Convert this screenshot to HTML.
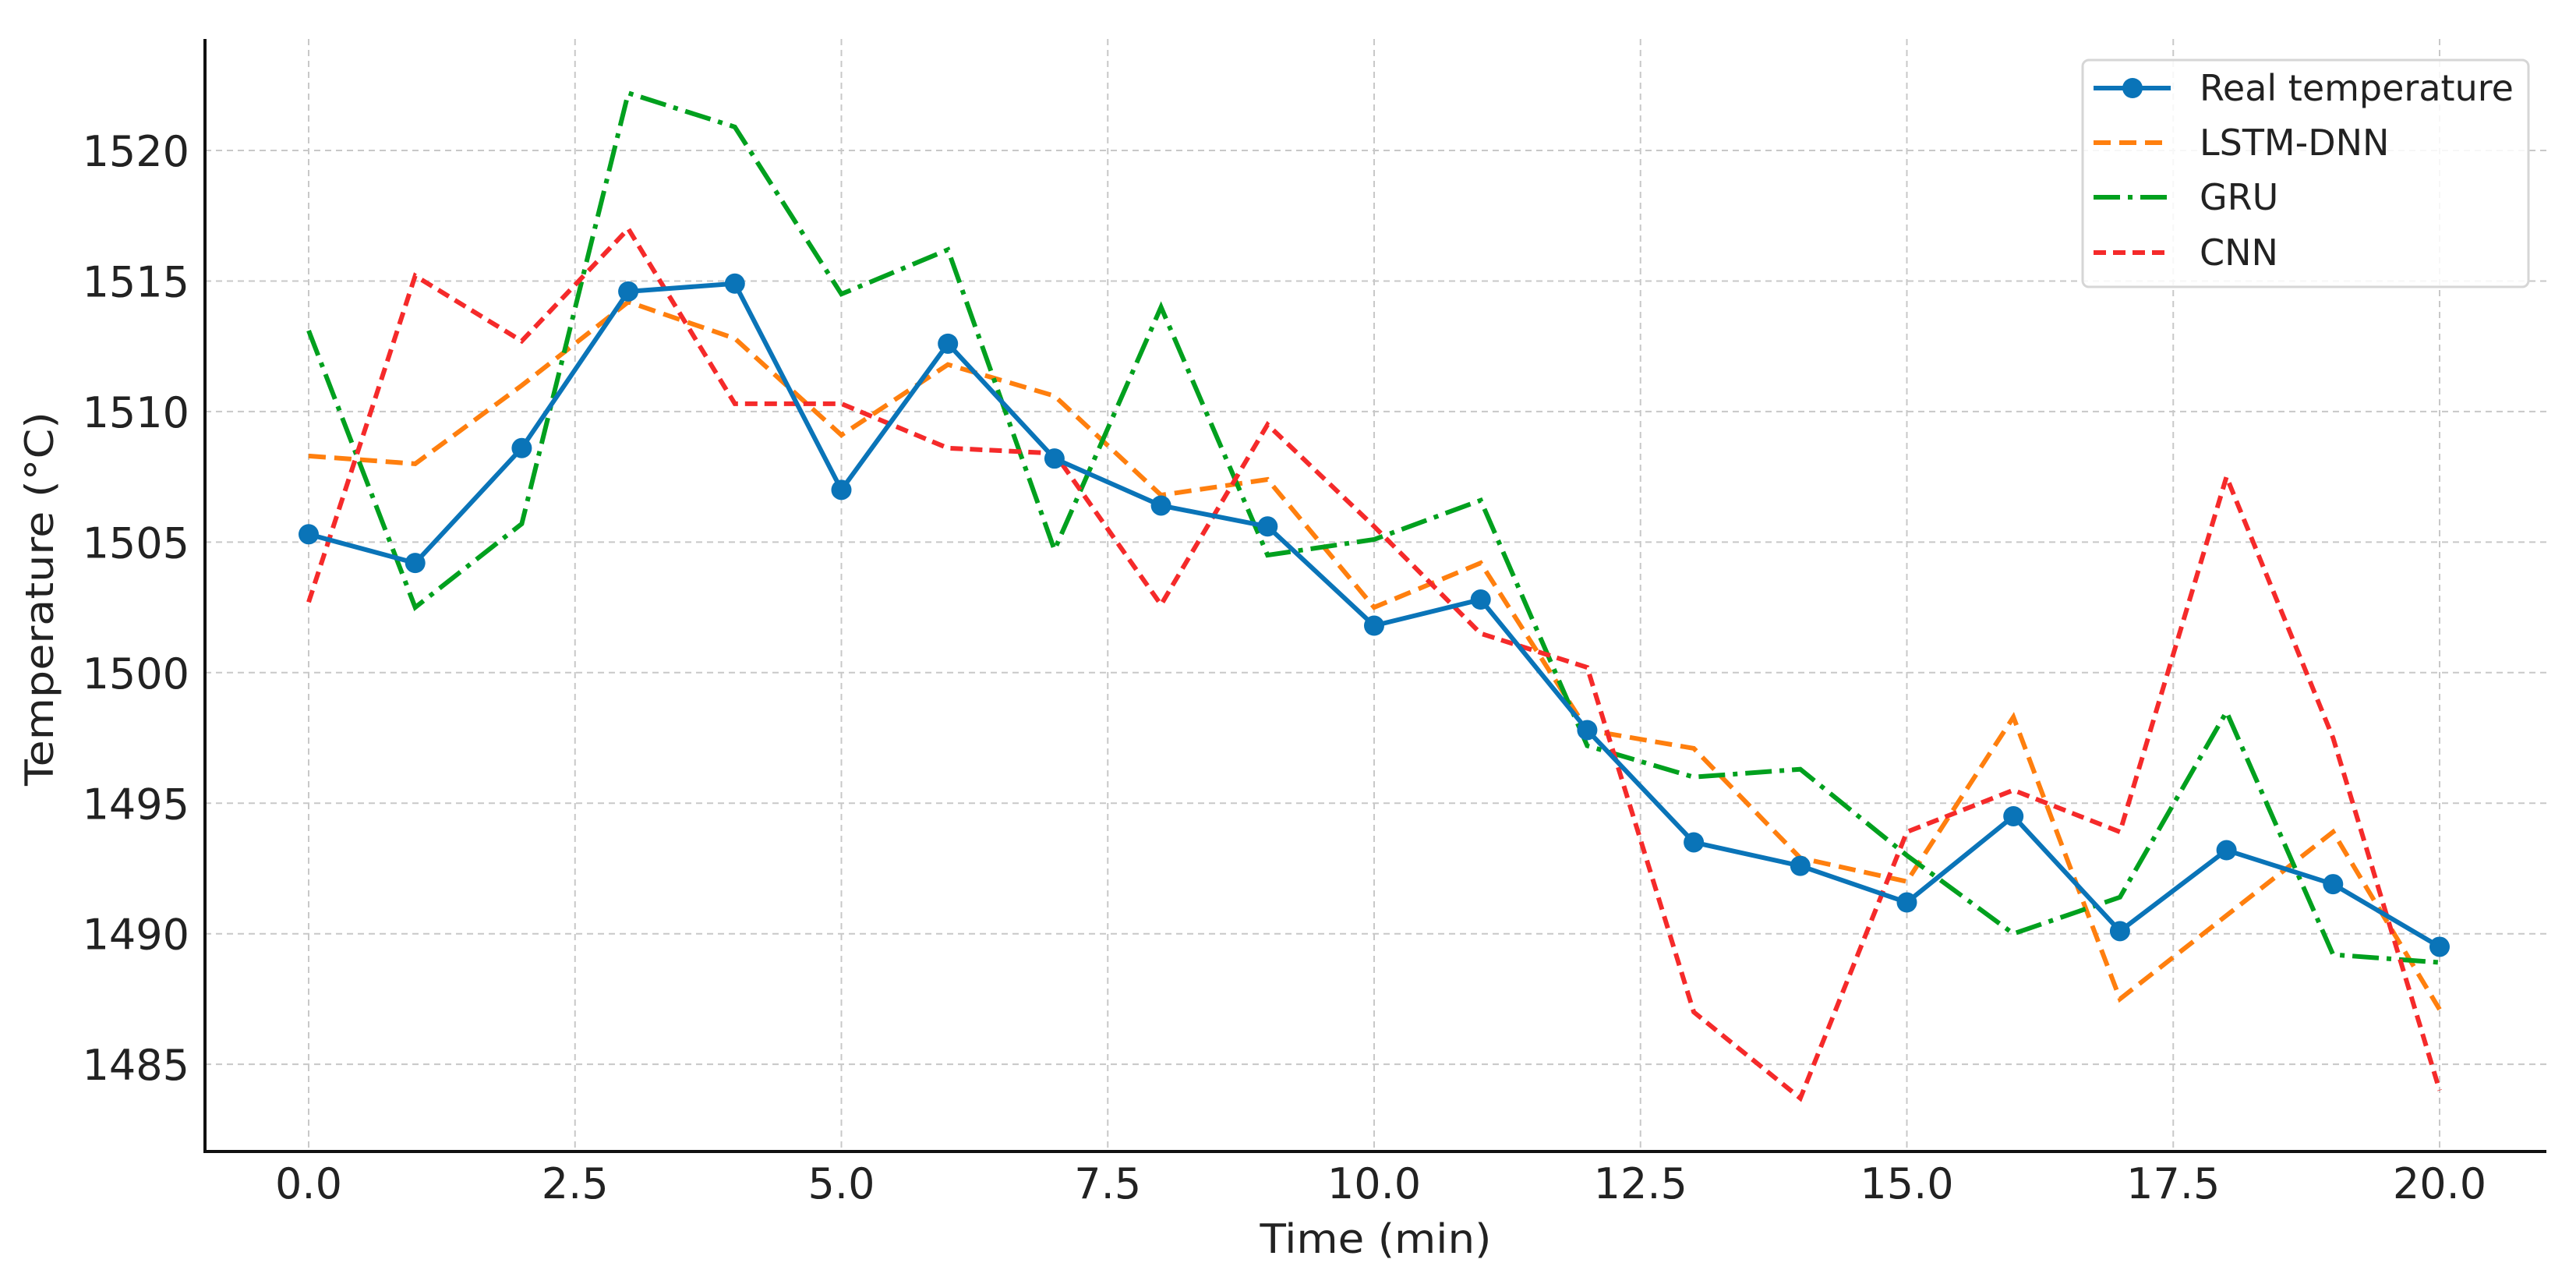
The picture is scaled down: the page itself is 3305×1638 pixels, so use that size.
<!DOCTYPE html>
<html><head><meta charset="utf-8"><style>
html,body{margin:0;padding:0;background:#fff;}
svg{display:block;font-family:"DejaVu Sans","Liberation Sans",sans-serif;}
</style></head><body>
<svg id="chart" width="3305" height="1638" viewBox="0 0 3305 1638" xmlns="http://www.w3.org/2000/svg">
<rect width="3305" height="1638" fill="#fff"/>
<g id="grid"></g>
<g id="series"></g>
<g id="axes"></g>
<text transform="translate(68,768) rotate(-90)" text-anchor="middle" font-size="50" fill="#222" textLength="480" lengthAdjust="spacingAndGlyphs">Temperature (°C)</text>
<text x="1765" y="1607" text-anchor="middle" font-size="52" fill="#222" textLength="297" lengthAdjust="spacingAndGlyphs">Time (min)</text>
<g id="legend"></g>
</svg>
<script>
const xs = [0,1,2,3,4,5,6,7,8,9,10,11,12,13,14,15,16,17,18,19,20];
const realTemp = [1505.3,1504.2,1508.6,1514.6,1514.9,1507.0,1512.6,1508.2,1506.4,1505.6,1501.8,1502.8,1497.8,1493.5,1492.6,1491.2,1494.5,1490.1,1493.2,1491.9,1489.5];
const lstmDnn = [1508.3,1508.0,1511.0,1514.2,1512.8,1509.1,1511.8,1510.6,1506.8,1507.4,1502.5,1504.2,1497.8,1497.1,1492.9,1492.0,1498.3,1487.5,1490.7,1493.9,1487.1];
const gru = [1513.1,1502.5,1505.7,1522.2,1520.9,1514.5,1516.2,1504.7,1514.0,1504.5,1505.1,1506.6,1497.2,1496.0,1496.3,1493.0,1490.0,1491.4,1498.5,1489.2,1488.9];
const cnn = [1502.7,1515.2,1512.7,1517.0,1510.3,1510.3,1508.6,1508.4,1502.6,1509.5,1505.6,1501.5,1500.2,1487.0,1483.7,1493.9,1495.5,1493.9,1507.5,1497.5,1484.0];
const xTicks = [0,2.5,5,7.5,10,12.5,15,17.5,20];
const xTickLabels = ["0.0","2.5","5.0","7.5","10.0","12.5","15.0","17.5","20.0"];
const yTicks = [1485,1490,1495,1500,1505,1510,1515,1520];
const yTickLabels = ["1485","1490","1495","1500","1505","1510","1515","1520"];
const legendLabels = ["Real temperature","LSTM-DNN","GRU","CNN"];

const NS="http://www.w3.org/2000/svg";
const L=263,R=3267,T=50,B=1477;
const X=v=>396+v*136.7;
const Y=v=>193+(1520-v)*33.49;
function mk(tag,attrs,parent){const e=document.createElementNS(NS,tag);for(const k in attrs)e.setAttribute(k,attrs[k]);parent.appendChild(e);return e;}
const grid=document.getElementById('grid'),axes=document.getElementById('axes'),ser=document.getElementById('series'),leg=document.getElementById('legend');

xTicks.forEach((t,i)=>{
  const g=mk('line',{x1:X(t),x2:X(t),y1:T,y2:B,stroke:'#c8c8c8','stroke-width':2,'stroke-dasharray':'8,6'},grid);
  
  
  const tx=mk('text',{x:X(t),y:1537,'text-anchor':'middle','font-size':54,fill:'#222'},axes);
  tx.textContent=xTickLabels[i];
  
  
});
yTicks.forEach((t,i)=>{
  const g=mk('line',{x1:L,x2:R,y1:Y(t),y2:Y(t),stroke:'#c8c8c8','stroke-width':2,'stroke-dasharray':'8,6'},grid);
  
  
  const tx=mk('text',{x:243,y:Y(t)+20,'text-anchor':'end','font-size':54,fill:'#222'},axes);
  tx.textContent=yTickLabels[i];
  
  
});
const ax1=mk('line',{x1:L,x2:L,y1:T,y2:B+2,stroke:'#111','stroke-width':4},axes);


const ax2=mk('line',{x1:L-2,x2:R,y1:B,y2:B,stroke:'#111','stroke-width':4},axes);



const styles=[
 {data:realTemp,color:'#0a74b8',dash:null,name:'real-temperature-line'},
 {data:lstmDnn,color:'#ff7f0e',dash:'22,11',name:'lstm-dnn-line'},
 {data:gru,color:'#00a01e',dash:'34,10,6,10',name:'gru-line'},
 {data:cnn,color:'#f52a2a',dash:'16,9',name:'cnn-line'}
];
[1,2,3,0].forEach(si=>{
  const s=styles[si];
  const pts=s.data.map((v,i)=>X(xs[i])+','+Y(v)).join(' ');
  const a={points:pts,fill:'none',stroke:s.color,'stroke-width':6,'stroke-linejoin':'miter'};
  if(s.dash)a['stroke-dasharray']=s.dash;
  const p=mk('polyline',a,ser);
  
  
});
realTemp.forEach((v,i)=>{
  const c=mk('circle',{cx:X(xs[i]),cy:Y(v),r:13,fill:'#0a74b8'},ser);
  
  
});

const box=mk('rect',{x:2672,y:77,width:572,height:291,rx:8,fill:'#fff','fill-opacity':0.85,stroke:'#d6d6d6','stroke-width':3},leg);


const rows=[113,183,253,324];
legendLabels.forEach((lab,i)=>{
  const s=styles[i];
  const a={x1:2686,x2:2785,y1:rows[i],y2:rows[i],stroke:s.color,'stroke-width':6};
  if(s.dash)a['stroke-dasharray']=s.dash;
  const ln=mk('line',a,leg);
  
  
  if(i===0){
    const c=mk('circle',{cx:2736,cy:rows[i],r:13,fill:s.color},leg);
    
    
  }
  const t=mk('text',{x:2822,y:rows[i]+16,'font-size':46,fill:'#222'},leg);
  t.textContent=lab;
  
  
});
</script>
</body></html>
